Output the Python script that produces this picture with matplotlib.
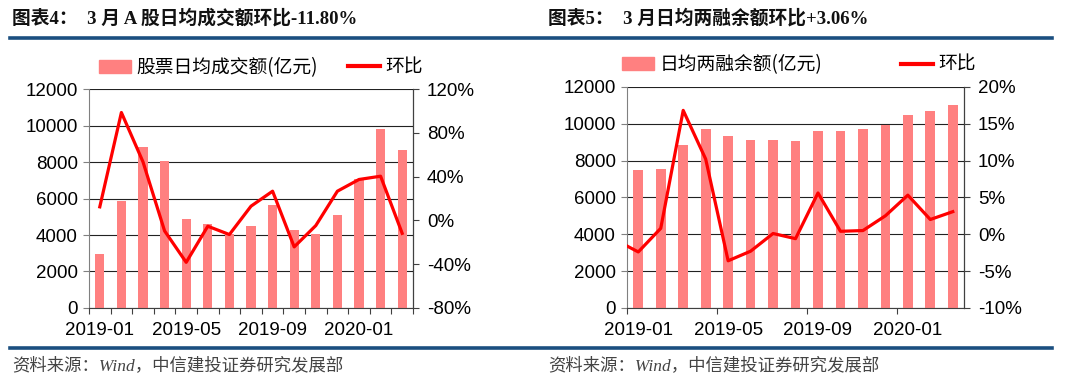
import matplotlib
matplotlib.use("Agg")
import matplotlib.pyplot as plt
from matplotlib.lines import Line2D
from matplotlib.patches import Patch
from matplotlib.ticker import FuncFormatter

plt.rcParams['font.family'] = ['Liberation Sans', 'Noto Sans CJK SC']

## data
months = ['2019-01', '2019-02', '2019-03', '2019-04', '2019-05', '2019-06', '2019-07', '2019-08',
          '2019-09', '2019-10', '2019-11', '2019-12', '2020-01', '2020-02', '2020-03']

# 图表4 股票日均成交额(亿元) / 环比(%)
turnover = [2980, 5890, 8850, 8050, 4900, 4610, 4060, 4480, 5670, 4260, 4060, 5120, 7080, 9820, 8670]
turnover_mom = [12.4, 98.6, 53.5, -9.6, -38.3, -5.3, -12.9, 13.0, 26.7, -24.2, -4.7, 26.7, 37.4, 40.4, -11.8]

# 图表5 日均两融余额(亿元) / 环比(%)，首个值为2018-12
margin = [7490, 7540, 8820, 9690, 9310, 9110, 9110, 9060, 9580, 9620, 9690, 9910, 10450, 10670, 10990]
margin_mom_prev = -0.8
margin_mom = [-2.4, 0.8, 16.8, 10.2, -3.6, -2.3, 0.1, -0.6, 5.6, 0.4, 0.5, 2.5, 5.3, 2.0, 3.06]

bar_color = '#FF8080'
line_color = '#FF0000'
blue = '#1B4F80'

fig = plt.figure(figsize=(10.8, 3.84), dpi=100)

## titles and rules
title_font = ['Liberation Serif', 'Noto Sans CJK SC']
fig.text(12 / 1080, 1 - 18 / 384, '图表4：  3 月 A 股日均成交额环比-11.80%', family=title_font,
         fontsize=13.5, fontweight='bold', va='center', ha='left', color='#111111')
fig.text(548 / 1080, 1 - 18 / 384, '图表5：  3 月日均两融余额环比+3.06%', family=title_font,
         fontsize=13.5, fontweight='bold', va='center', ha='left', color='#111111')
for yy in [38, 348]:
    fig.add_artist(Line2D([10 / 1080, 1052 / 1080], [1 - yy / 384, 1 - yy / 384],
                          color=blue, lw=2.6, transform=fig.transFigure))
src = '资料来源：Wind，中信建投证券研究发展部'
fig.text(12 / 1080, 1 - 366 / 384, src, fontsize=12.5, style='italic', color='#444444',
         va='center', ha='left', family=['Liberation Serif', 'Noto Sans CJK SC'])
fig.text(548 / 1080, 1 - 366 / 384, src, fontsize=12.5, style='italic', color='#444444',
         va='center', ha='left', family=['Liberation Serif', 'Noto Sans CJK SC'])

x = list(range(len(months)))
pct = FuncFormatter(lambda v, p: '%d%%' % v)


def style_axes(ax, ax2):
    ax.set_xlim(-0.5, 14.5)
    ax.set_ylim(0, 12000)
    ax.set_yticks(range(0, 12001, 2000))
    ax.yaxis.grid(True, color='#222222', lw=0.8)
    ax.set_axisbelow(True)
    for s in ['top']:
        ax.spines[s].set_visible(False)
        ax2.spines[s].set_visible(False)
    ax.spines['left'].set_color('#808080')
    ax.spines['bottom'].set_color('#404040')
    ax2.spines['left'].set_visible(False)
    ax2.spines['bottom'].set_visible(False)
    ax2.spines['right'].set_color('#404040')
    ax.tick_params(axis='y', length=4, color='#808080', labelsize=13.5, pad=4)
    ax2.tick_params(axis='y', length=4, color='#404040', labelsize=13.5, pad=6)
    ax2.yaxis.set_major_formatter(pct)
    ax.set_xticks([0, 4, 8, 12], minor=True)
    ax.set_xticklabels([months[i] for i in [0, 4, 8, 12]], minor=True)
    ax.tick_params(axis='x', which='minor', length=0, labelsize=13.5, pad=10)
    ax.tick_params(axis='x', which='major', length=4, color='#404040', labelbottom=False)


## 图表4
ax1 = fig.add_axes([0.0824, 0.198, 0.300, 0.570])
ax1b = ax1.twinx()
ax1.bar(x, turnover, width=0.42, color=bar_color, zorder=2)
ax1b.plot(x, turnover_mom, color=line_color, lw=2.3, zorder=3)
ax1b.set_ylim(-80, 120)
ax1b.set_yticks(range(-80, 121, 40))
style_axes(ax1, ax1b)
ax1.set_xticks([i - 0.5 for i in range(16)])
ax1.legend([Patch(color=bar_color), Line2D([], [], color=line_color, lw=3)],
           ['股票日均成交额(亿元)', '环比'], loc='center', bbox_to_anchor=(0.53, 1.1),
           ncol=2, frameon=False, handlelength=1.7, handletextpad=0.3,
           columnspacing=1.6, prop={'family': ['Noto Sans CJK SC'], 'size': 13.5})

## 图表5
ax2 = fig.add_axes([0.5806, 0.198, 0.312, 0.576])
ax2b = ax2.twinx()
ax2.bar(x, margin, width=0.43, color=bar_color, zorder=2)
ax2b.plot([-1] + x, [margin_mom_prev] + margin_mom, color=line_color, lw=2.3, zorder=3)
ax2b.set_ylim(-10, 20)
ax2b.set_yticks(range(-10, 21, 5))
style_axes(ax2, ax2b)
ax2.set_xticks([-0.5, 3.5, 7.5, 11.5])
ax2.legend([Patch(color=bar_color), Line2D([], [], color=line_color, lw=3)],
           ['日均两融余额(亿元)', '环比'], loc='center', bbox_to_anchor=(0.51, 1.1),
           ncol=2, frameon=False, handlelength=1.7, handletextpad=0.3,
           columnspacing=4.2, prop={'family': ['Noto Sans CJK SC'], 'size': 13.5})

fig.savefig('out.png', dpi=100)
